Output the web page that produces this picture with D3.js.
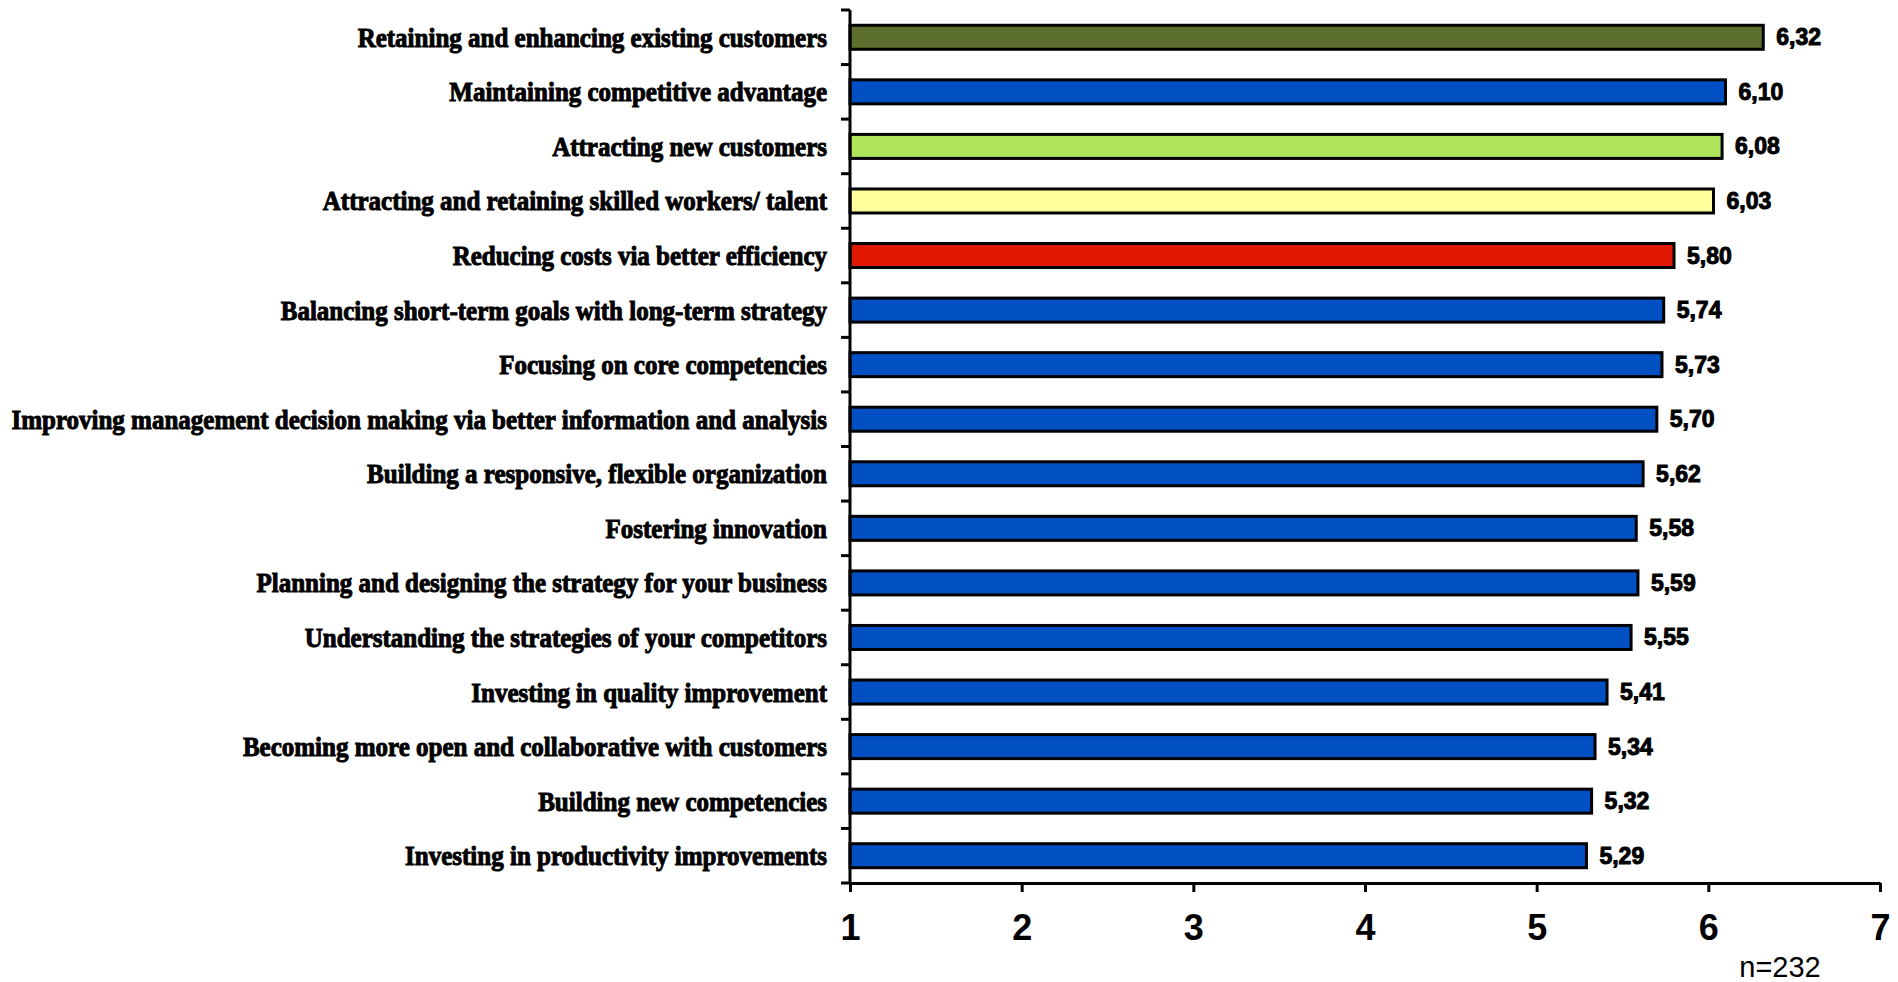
<!DOCTYPE html>
<html>
<head>
<meta charset="utf-8">
<script src="https://cdn.jsdelivr.net/npm/d3@7"></script>
<style>
  html, body { margin: 0; padding: 0; background: #ffffff; }
  svg { display: block; }
</style>
</head>
<body>
<svg id="chart" width="1898" height="982"></svg>
<script>
// Business priorities, mean scores on a 1–7 scale
const categories = [
  "Retaining and enhancing existing customers",
  "Maintaining competitive advantage",
  "Attracting new customers",
  "Attracting and retaining skilled workers/ talent",
  "Reducing costs via better efficiency",
  "Balancing short-term goals with long-term strategy",
  "Focusing on core competencies",
  "Improving management decision making via better information and analysis",
  "Building a responsive, flexible organization",
  "Fostering innovation",
  "Planning and designing the strategy for your business",
  "Understanding the strategies of your competitors",
  "Investing in quality improvement",
  "Becoming more open and collaborative with customers",
  "Building new competencies",
  "Investing in productivity improvements"
];
const values = [6.32, 6.10, 6.08, 6.03, 5.80, 5.74, 5.73, 5.70, 5.62, 5.58, 5.59, 5.55, 5.41, 5.34, 5.32, 5.29];
const barColors = [
  "#5b6e2e", "#0050c4", "#aee35c", "#ffff9c", "#e01800",
  "#0050c4", "#0050c4", "#0050c4", "#0050c4", "#0050c4",
  "#0050c4", "#0050c4", "#0050c4", "#0050c4", "#0050c4", "#0050c4"
];
const xTicks = [1, 2, 3, 4, 5, 6, 7];
const sampleNote = "n=232";

const svg = d3.select("#chart");

const plot = { left: 850, right: 1880, top: 10, bottom: 883 };

const x = d3.scaleLinear().domain([1, 7]).range([plot.left, plot.right]);
const y = d3.scaleBand()
  .domain(categories)
  .range([plot.top, plot.bottom])
  .paddingInner(0.56)
  .paddingOuter(0.28);

const fmt = v => d3.format(".2f")(v).replace(".", ",");

// Bars
svg.append("g").selectAll("rect")
  .data(categories)
  .join("rect")
  .attr("x", x(1))
  .attr("y", d => y(d))
  .attr("width", (d, i) => x(values[i]) - x(1))
  .attr("height", y.bandwidth())
  .attr("fill", (d, i) => barColors[i])
  .attr("stroke", "#000")
  .attr("stroke-width", 3);

// Value labels
svg.append("g").selectAll("text")
  .data(categories)
  .join("text")
  .attr("x", (d, i) => x(values[i]) + 13)
  .attr("y", d => y(d) + y.bandwidth() / 2)
  .attr("dominant-baseline", "central")
  .attr("font-family", "'Liberation Sans', Arial, sans-serif")
  .attr("font-weight", "bold")
  .attr("font-size", 23)
  .attr("fill", "#000")
  .attr("stroke", "#000")
  .attr("stroke-width", 1)
  .text((d, i) => fmt(values[i]));

// Category labels: heavy condensed serif, right-aligned before the axis
const labelRight = 827;
const longestTarget = 816;
const labelG = svg.append("g");
const labels = labelG.selectAll("g")
  .data(categories)
  .join("g");
labels.append("text")
  .attr("text-anchor", "end")
  .attr("dominant-baseline", "central")
  .attr("font-family", "'Liberation Serif', 'Times New Roman', serif")
  .attr("font-weight", "bold")
  .attr("font-size", 28)
  .attr("fill", "#000")
  .attr("stroke", "#000")
  .attr("stroke-width", 1)
  .text(d => d);
let maxW = 0;
labels.selectAll("text").each(function () {
  maxW = Math.max(maxW, this.getComputedTextLength());
});
const sx = longestTarget / maxW;
labels.attr("transform", d => `translate(${labelRight},${y(d) + y.bandwidth() / 2}) scale(${sx},1)`);

// Vertical (category) axis with ticks at band boundaries
const boundaries = d3.range(categories.length + 1).map(i => plot.top + i * y.step());
const yAxisG = svg.append("g");
yAxisG.append("line")
  .attr("x1", plot.left).attr("x2", plot.left)
  .attr("y1", plot.top).attr("y2", plot.bottom)
  .attr("stroke", "#000").attr("stroke-width", 3);
yAxisG.selectAll("line.tick")
  .data(boundaries)
  .join("line")
  .attr("class", "tick")
  .attr("x1", plot.left - 9).attr("x2", plot.left)
  .attr("y1", d => d).attr("y2", d => d)
  .attr("stroke", "#000").attr("stroke-width", 3);

// Horizontal (value) axis
const xAxis = d3.axisBottom(x)
  .tickValues(xTicks)
  .tickFormat(d3.format("d"))
  .tickSizeInner(9)
  .tickSizeOuter(0)
  .tickPadding(22);
const xAxisG = svg.append("g")
  .attr("transform", `translate(0,${plot.bottom})`)
  .call(xAxis);
xAxisG.select(".domain").attr("stroke", "#000").attr("stroke-width", 3);
xAxisG.selectAll(".tick line").attr("stroke", "#000").attr("stroke-width", 3);
xAxisG.selectAll(".tick text")
  .attr("font-family", "'Liberation Sans', Arial, sans-serif")
  .attr("font-weight", "bold")
  .attr("font-size", 36)
  .attr("fill", "#000");

// Sample size note
svg.append("text")
  .attr("x", 1780)
  .attr("y", 977)
  .attr("text-anchor", "middle")
  .attr("font-family", "'Liberation Sans', Arial, sans-serif")
  .attr("font-size", 29)
  .attr("fill", "#000")
  .text(sampleNote);
</script>
</body>
</html>
